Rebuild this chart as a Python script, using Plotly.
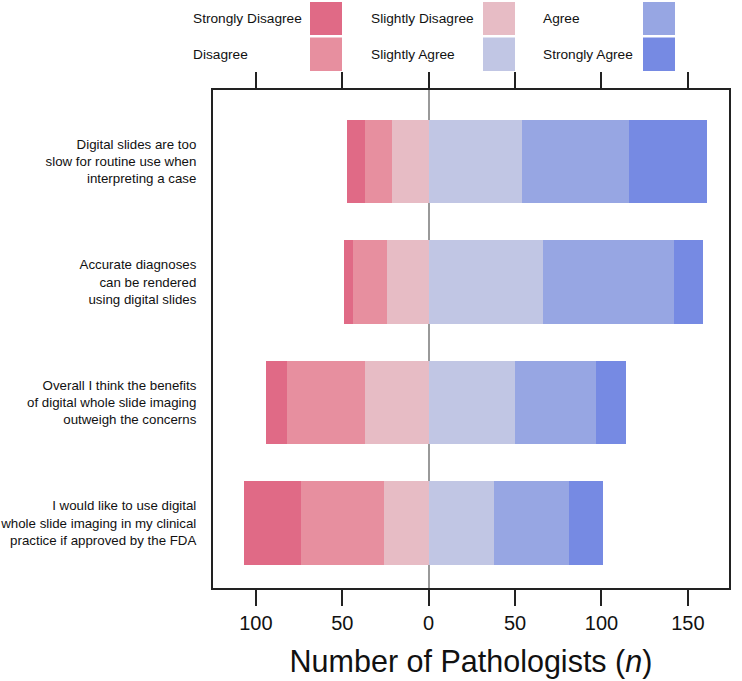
import plotly.graph_objects as go

# questions listed top to bottom
questions = [
    'Digital slides are too<br>slow for routine use when<br>interpreting a case',
    'Accurate diagnoses<br>can be rendered<br>using digital slides',
    'Overall I think the benefits<br>of digital whole slide imaging<br>outweigh the concerns',
    'I would like to use digital<br>whole slide imaging in my clinical<br>practice if approved by the FDA',
]

strongly_disagree = [10, 5, 12, 33]
disagree = [16, 20, 45, 48]
slightly_disagree = [21, 24, 37, 26]
slightly_agree = [54, 66, 50, 38]
agree = [62, 76, 47, 43]
strongly_agree = [45, 17, 17, 20]

tick_vals = [-100, -50, 0, 50, 100, 150]
tick_text = ['100', '50', '0', '50', '100', '150']

COLORS = {
    'Strongly Disagree': '#E06A86',
    'Disagree': '#E78F9F',
    'Slightly Disagree': '#E7BCC5',
    'Slightly Agree': '#C1C6E4',
    'Agree': '#97A6E3',
    'Strongly Agree': '#768AE3',
}

W, H = 742, 681
ML, MR, MT, MB = 213, 13, 90, 93
FONT = 'Arial, Liberation Sans, sans-serif'

# negative side stacks outward from zero: slightly -> strongly
series = [
    ('Slightly Disagree', [-v for v in slightly_disagree]),
    ('Disagree', [-v for v in disagree]),
    ('Strongly Disagree', [-v for v in strongly_disagree]),
    ('Slightly Agree', slightly_agree),
    ('Agree', agree),
    ('Strongly Agree', strongly_agree),
]

fig = go.Figure()
for name, vals in series:
    fig.add_trace(go.Bar(
        name=name, x=vals, y=questions, orientation='h',
        marker=dict(color=COLORS[name], line=dict(width=0)),
        width=0.69, showlegend=False,
    ))


def px_x(px):
    return (px - ML) / (W - ML - MR)


def px_y(py):
    return (H - MB - py) / (H - MT - MB)


# hand-made legend: text then colour box, 3 columns x 2 rows
legend_cols = [
    (191, 310, ['Strongly Disagree', 'Disagree']),
    (369, 483, ['Slightly Disagree', 'Slightly Agree']),
    (541, 643, ['Agree', 'Strongly Agree']),
]
rows = [(2, 35), (37.5, 71)]
for text_x, box_x, names in legend_cols:
    for (y0, y1), name in zip(rows, names):
        fig.add_shape(type='rect', xref='paper', yref='paper',
                      x0=px_x(box_x), x1=px_x(box_x + 32),
                      y0=px_y(y1), y1=px_y(y0),
                      fillcolor=COLORS[name], line=dict(width=0))
        fig.add_annotation(xref='paper', yref='paper', x=px_x(text_x),
                           y=px_y((y0 + y1) / 2), text=name, showarrow=False,
                           xanchor='left', yanchor='middle',
                           font=dict(size=13.7, color='#111', family=FONT))

fig.update_layout(
    width=W, height=H,
    margin=dict(l=ML, r=MR, t=MT, b=MB),
    barmode='relative', bargap=0,
    plot_bgcolor='white', paper_bgcolor='white',
    font=dict(family=FONT, color='#111'),
)
fig.update_xaxes(
    range=[-124.8, 173.8], tickvals=tick_vals, ticktext=tick_text,
    ticks='outside', ticklen=16, tickwidth=2, tickcolor='#222',
    showline=True, linewidth=2, linecolor='#222', mirror='ticks',
    showgrid=False, zeroline=True, zerolinecolor='#999', zerolinewidth=1.5,
    tickfont=dict(size=20), automargin=False,
    title=dict(text='Number of Pathologists (<i>n</i>)', font=dict(size=30.5), standoff=18),
)
fig.update_yaxes(
    range=[3.54, -0.593], showline=True, linewidth=2, linecolor='#222', mirror=True,
    ticks='', showgrid=False, tickfont=dict(size=13.3), ticklabelstandoff=12,
    automargin=False,
)

# drop the default page margin so the figure sits at the window's corner
fig.write_html('out.html', config={'displayModeBar': False},
               post_script="document.body.style.margin='0';")
